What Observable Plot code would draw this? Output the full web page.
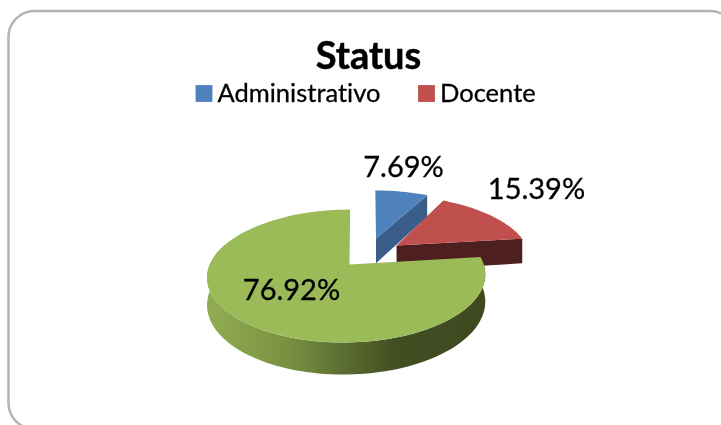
<!DOCTYPE html>
<html>
<head>
<meta charset="utf-8">
<script src="https://cdn.jsdelivr.net/npm/d3@7"></script>
<script src="https://cdn.jsdelivr.net/npm/@observablehq/plot@0.6"></script>
<style>
html,body{margin:0;padding:0;background:#fff;overflow:hidden}
svg{display:block;filter:blur(0.5px);font-variant-ligatures:none;font-feature-settings:"liga" 0}
</style>
</head>
<body>
<div id="chart"></div>
<script>
// Data
const categories = ["Administrativo", "Docente", "Outros"];
const percentages = [7.69, 15.39, 76.92];
const percentLabels = ["7.69%", "15.39%", "76.92%"];
const chartTitle = "Status";
const legendCategories = categories.slice(0, 2);

// Style and layout
const topColors = ["#4f81bd", "#c0504d", "#9bbb59"];
const sideColors = ["#3a5d8a", "#4d1f1e", "url(#greenWall)"];
const explodeU = [0.208, 0.362, -0.02];
const explodeV = [-0.433, -0.31, 0];
const apexShiftU = [0, 0, 0.02];
const shear = [3, 0, 3];
const labelX = [403, 536, 291];
const labelY = [167, 189, 290];
const legendMarkX = [203.5, 426];
const legendTextX = [217, 439.5];
const font = "Lato, Carlito, Calibri, sans-serif";

// Perspective projection of the tilted disc
const X0 = 349, Y0 = 264, rx = 137, ry = 64.5, persp = 0.173, depth = 26.5;
const project = (u, v, h) => {
  const s = 1 / (1 - persp * v);
  return {x: X0 + rx * u * s, y: Y0 + (ry * v + depth * h) * s};
};

let start = 0;
const slices = percentages.map((p, i) => {
  const a0 = start, a1 = start + p * 3.6;
  start = a1;
  const rad = (t) => (t * Math.PI) / 180;
  const cu = explodeU[i], cv = explodeV[i];
  const arc = (from, to, h) => {
    const n = Math.max(2, Math.ceil(Math.abs(to - from) / 2));
    return d3.range(n + 1).map((j) => {
      const t = rad(from + ((to - from) * j) / n);
      const q = project(cu + Math.sin(t), cv - Math.cos(t), h);
      return {x: q.x + shear[i] * Math.cos(t), y: q.y};
    });
  };
  const apex = (h) => project(cu + apexShiftU[i], cv, h);
  return {a0, a1, arc, apex};
});

const polygons = [];
// Blue: cut face, then top
polygons.push({fill: sideColors[0], pts: [slices[0].apex(0), slices[0].arc(slices[0].a1, slices[0].a1, 0)[0], slices[0].arc(slices[0].a1, slices[0].a1, 1)[0], slices[0].apex(1)]});
polygons.push({fill: topColors[0], pts: [slices[0].apex(0), ...slices[0].arc(slices[0].a0, slices[0].a1, 0)]});
// Red: cut face, then top
polygons.push({fill: sideColors[1], pts: [slices[1].apex(0), slices[1].arc(slices[1].a1, slices[1].a1, 0)[0], slices[1].arc(slices[1].a1, slices[1].a1, 1)[0], slices[1].apex(1)]});
polygons.push({fill: topColors[1], pts: [slices[1].apex(0), ...slices[1].arc(slices[1].a0, slices[1].a1, 0)]});
// Green: front wall, then top
const wallEnd = 290;
polygons.push({fill: sideColors[2], pts: [...slices[2].arc(slices[2].a0, wallEnd, 0), ...slices[2].arc(wallEnd, slices[2].a0, 1)]});
polygons.push({fill: topColors[2], pts: [slices[2].apex(0), ...slices[2].arc(slices[2].a0, slices[2].a1, 0)]});

const gradient = () => {
  const defs = d3.create("svg:defs");
  const g = defs.append("linearGradient").attr("id", "greenWall").attr("x1", 0).attr("x2", 1).attr("y1", 0).attr("y2", 0);
  [[0, "#93ad53"], [0.3, "#76903f"], [0.5, "#5a6c30"], [0.68, "#424e22"], [1, "#3e4920"]].forEach(([o, c]) =>
    g.append("stop").attr("offset", o).attr("stop-color", c));
  return defs.node();
};

const plot = Plot.plot({
  width: 721,
  height: 425,
  margin: 0,
  x: {domain: [0, 721], range: [0, 721], axis: null},
  y: {domain: [0, 425], range: [0, 425], axis: null},
  marks: [
    gradient,
    Plot.rect([{}], {x1: () => 8.5, x2: () => 736, y1: () => 11, y2: () => 429, rx: 26, fill: "#fff", stroke: "#b4b4b4", strokeWidth: 2.5}),
    ...polygons.map((p) => Plot.line(p.pts, {x: "x", y: "y", fill: p.fill, stroke: "none"})),
    Plot.text([chartTitle], {x: () => 368, y: () => 56, text: (d) => d, fontFamily: font, fontWeight: 700, fontSize: 38, fill: "#000", stroke: "#000", strokeWidth: 0.5}),
    Plot.dot(legendCategories, {x: (d, i) => legendMarkX[i], y: () => 93, symbol: "square", r: 9.5, fill: (d, i) => topColors[i], stroke: "none"}),
    Plot.text(legendCategories, {x: (d, i) => legendTextX[i], y: () => 93, text: (d) => d, textAnchor: "start", fontFamily: font, fontSize: 25.5, fill: "#000", stroke: "#000", strokeWidth: 0.3}),
    Plot.text(percentLabels, {x: (d, i) => labelX[i], y: (d, i) => labelY[i], text: (d) => d, fontFamily: font, fontSize: 29, fill: "#000", stroke: "#000", strokeWidth: 0.3})
  ]
});
document.getElementById("chart").append(plot);
</script>
</body>
</html>
